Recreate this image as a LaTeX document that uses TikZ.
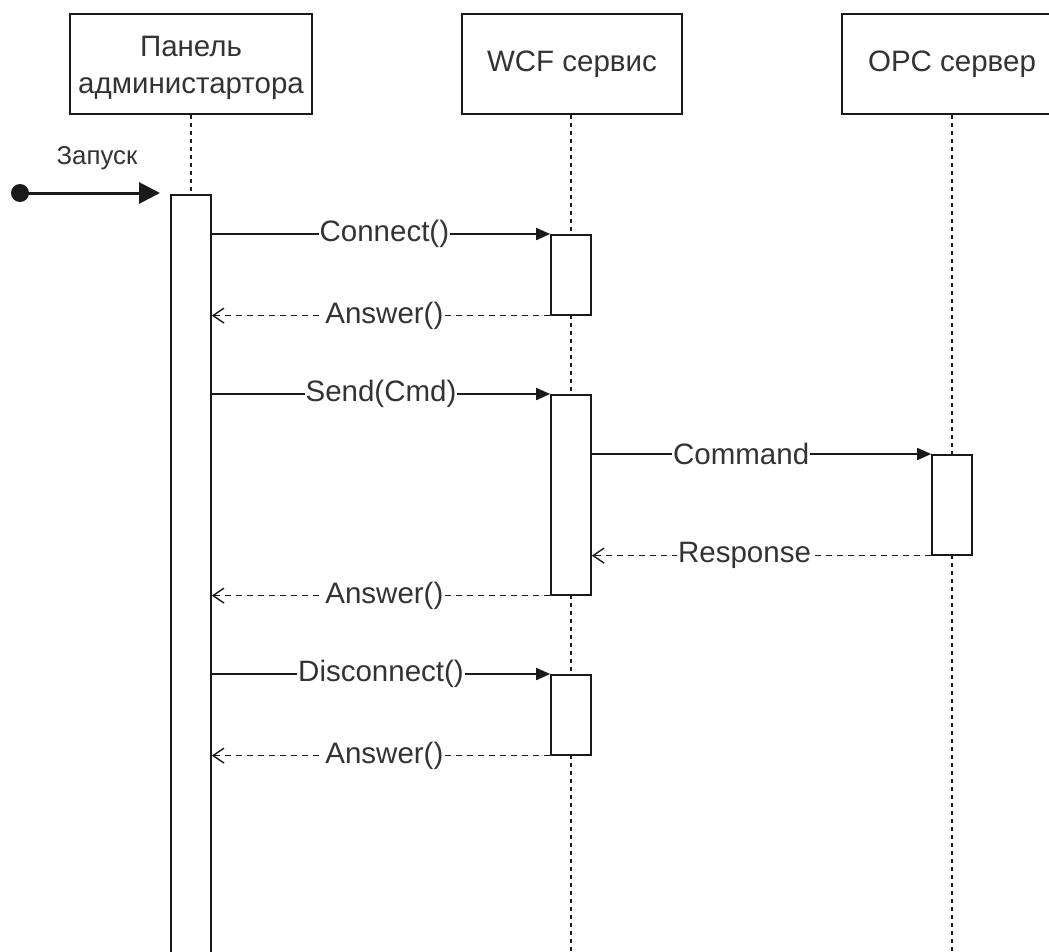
\documentclass[tikz,border=0pt]{standalone}
\usepackage{fontspec}
\setmainfont{Liberation Sans}
\usetikzlibrary{arrows.meta}
\definecolor{ink}{HTML}{1A1A1A}
\definecolor{txt}{HTML}{333333}
\tikzset{
  participant/.style={draw=ink, line width=1.6pt, minimum height=100pt, inner sep=0pt,
    align=center, text=txt, font=\fontsize{29.5}{37}\selectfont},
  actbar/.style={draw=ink, fill=white, line width=1.6pt, minimum width=40pt, inner sep=0pt, anchor=north},
  lifeline/.style={draw=ink, line width=1.1pt, dash pattern=on 4pt off 4pt},
  callmsg/.style={draw=ink, line width=1.6pt, -{Triangle[length=14pt,width=12pt]}},
  replymsg/.style={draw=ink, line width=1.3pt, dash pattern=on 6pt off 5pt,
    -{Straight Barb[length=11pt,width=15pt,line width=1.4pt]}},
  msglabel/.style={fill=white, inner sep=1pt, text=txt, font=\fontsize{29.5}{32}\selectfont},
}
\begin{document}
\begin{tikzpicture}[x=1pt, y=-1pt]
\useasboundingbox (0,0) rectangle (1049,951);
\clip (0,0) rectangle (1049,951);

% participants
\node[participant, minimum width=242pt] (adm) at (191,64) {\rule{0pt}{28pt}Панель\\администартора};
\node[participant, minimum width=220pt] (wcf) at (572,64) {WCF сервис};
\node[participant, minimum width=220pt] (opc) at (952,64) {OPC сервер};

% lifeline ends below the visible area
\coordinate (admEnd) at (191,970);
\coordinate (wcfEnd) at (571,970);
\coordinate (opcEnd) at (952,970);

\draw[lifeline] (adm.south) -- (admEnd);
\draw[lifeline] (wcf.south -| wcfEnd) -- (wcfEnd);
\draw[lifeline] (opc.south) -- (opcEnd);

% activation bars
\node[actbar, minimum height=780pt] (a0) at (191,194) {};
\node[actbar, minimum height=80pt]  (w1) at (571,234) {};
\node[actbar, minimum height=200pt] (w2) at (571,394) {};
\node[actbar, minimum height=100pt] (o1) at (952,454) {};
\node[actbar, minimum height=80pt]  (w3) at (571,674) {};

% start of the session
\node[circle, fill=ink, minimum size=18pt, inner sep=0pt] (start) at (20,193) {};
\coordinate (startEnd) at (160,193);
\draw[draw=ink, line width=3pt, -{Triangle[length=21pt,width=21pt]}] (start.center) -- (startEnd);
\node[text=txt, font=\fontsize{25.8}{30}\selectfont] (startLbl) at (97,158) {Запуск};

% Connect / Answer
\draw[callmsg] (a0.east |- w1.north west) -- node[msglabel, pos=0.51] {Connect()} (w1.north west);
\draw[replymsg] (w1.south west) -- node[msglabel, pos=0.49] {Answer()} (a0.east |- w1.south west);

% Send / Command / Response / Answer
\draw[callmsg] (a0.east |- w2.north west) -- node[msglabel, pos=0.5] {Send(Cmd)} (w2.north west);
\draw[callmsg] (w2.east |- o1.north west) -- node[msglabel, pos=0.44] {Command} (o1.north west);
\draw[replymsg] (o1.south west) -- node[msglabel, pos=0.55] {Response} (w2.east |- o1.south west);
\draw[replymsg] (w2.south west) -- node[msglabel, pos=0.49] {Answer()} (a0.east |- w2.south west);

% Disconnect / Answer
\draw[callmsg] (a0.east |- w3.north west) -- node[msglabel, pos=0.5] {Disconnect()} (w3.north west);
\draw[replymsg] (w3.south west) -- node[msglabel, pos=0.49] {Answer()} (a0.east |- w3.south west);
\end{tikzpicture}
\end{document}
